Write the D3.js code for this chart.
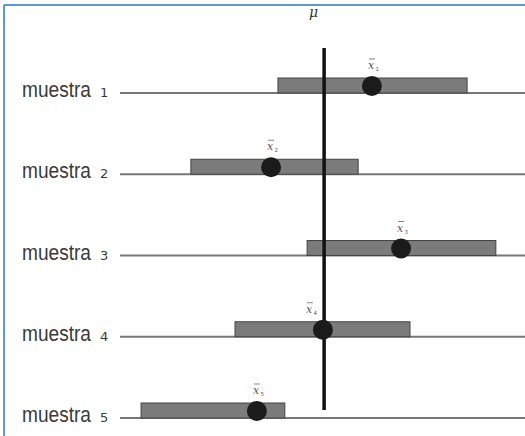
<!DOCTYPE html>
<html>
<head>
<meta charset="utf-8">
<script src="https://cdn.jsdelivr.net/npm/d3@7"></script>
<style>
html,body{margin:0;padding:0;background:#fff;}
svg{display:block;}
</style>
</head>
<body>
<svg id="chart" width="525" height="436"></svg>
<script>
// Data (units: arbitrary)
const samples = ["1", "2", "3", "4", "5"];
const sampleLabel = "muestra";
const lower = [39.0, 17.5, 46.2, 28.4, 5.2];
const upper = [85.7, 58.8, 92.8, 71.6, 40.7];
const means = [62.2, 37.3, 69.4, 50.1, 33.8];
const mu = 50.4;
const muLabel = "μ";

const svg = d3.select("#chart");

const x = d3.scaleLinear().domain([0, 100]).range([120, 525]);
const y = d3.scalePoint().domain(samples).range([93, 418]);

const barH = 15;

// blue frame (top + left)
svg.append("line").attr("x1", 4).attr("x2", 525).attr("y1", 5).attr("y2", 5)
  .attr("stroke", "#5b9bd5").attr("stroke-width", 2);
svg.append("line").attr("x1", 4).attr("x2", 4).attr("y1", 5).attr("y2", 436)
  .attr("stroke", "#5b9bd5").attr("stroke-width", 2);

const rows = samples.map((s, i) => ({s, lo: lower[i], hi: upper[i], m: means[i], i}));

// baselines
svg.selectAll("line.base").data(rows).join("line")
  .attr("class", "base")
  .attr("x1", x(0)).attr("x2", x(100))
  .attr("y1", d => y(d.s)).attr("y2", d => y(d.s))
  .attr("stroke", "#777").attr("stroke-width", 2);

// interval bars
svg.selectAll("rect.ci").data(rows).join("rect")
  .attr("class", "ci")
  .attr("x", d => x(d.lo)).attr("width", d => x(d.hi) - x(d.lo))
  .attr("y", d => y(d.s) - barH).attr("height", barH)
  .attr("fill", "#7b7b7b").attr("stroke", "#444").attr("stroke-width", 1);

// mu vertical line
svg.append("line")
  .attr("x1", x(mu)).attr("x2", x(mu))
  .attr("y1", 48).attr("y2", 410)
  .attr("stroke", "#111").attr("stroke-width", 3.5);

svg.append("text").attr("x", x(mu) - 15).attr("y", 17)
  .attr("font-family", "DejaVu Serif, serif").attr("font-style", "italic")
  .attr("font-size", 14).attr("fill", "#333").text(muLabel);

// means
svg.selectAll("circle.mean").data(rows).join("circle")
  .attr("class", "mean")
  .attr("cx", d => x(d.m)).attr("cy", d => y(d.s) - 7)
  .attr("r", 10).attr("fill", "#1b1b1b");

// x-bar labels (shifted left when they would sit on the mu line)
const xl = svg.selectAll("g.xl").data(rows).join("g")
  .attr("class", "xl")
  .attr("transform", d => {
    const near = Math.abs(x(d.m) - x(mu)) < 8;
    return `translate(${x(d.m) - (near ? 17 : 4)},${y(d.s) - 24})`;
  });
xl.append("text")
  .attr("font-family", "DejaVu Serif, serif").attr("font-style", "italic")
  .attr("font-size", 11).attr("fill", "#555")
  .text("x");
xl.append("line").attr("x1", 1).attr("x2", 7).attr("y1", -10).attr("y2", -10)
  .attr("stroke", "#666").attr("stroke-width", 0.8);
xl.append("text").attr("x", 7.5).attr("y", 2)
  .attr("font-family", "DejaVu Sans, sans-serif")
  .attr("font-size", 5.5).attr("fill", "#555")
  .text(d => d.s);

// row labels
svg.selectAll("text.lab").data(rows).join("text")
  .attr("class", "lab")
  .attr("x", 22).attr("y", d => y(d.s) + 4)
  .attr("font-family", "Liberation Sans, Arial, sans-serif")
  .attr("font-size", 22).attr("fill", "#3a3a3a")
  .attr("textLength", 69).attr("lengthAdjust", "spacingAndGlyphs")
  .text(sampleLabel);

svg.selectAll("text.num").data(rows).join("text")
  .attr("class", "num")
  .attr("x", 100).attr("y", d => y(d.s) + 4)
  .attr("font-family", "DejaVu Sans, sans-serif")
  .attr("font-size", 13).attr("fill", "#3a3a3a")
  .text(d => d.s);
</script>
</body>
</html>
